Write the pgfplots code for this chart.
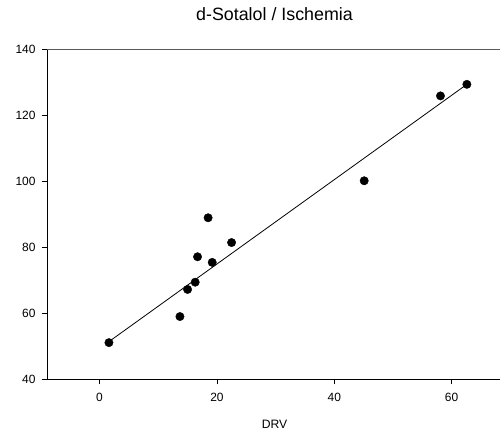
\documentclass[border=0pt]{standalone}
\usepackage{pgfplots}
\pgfplotsset{compat=1.18}
\usepackage{fontspec}
\setmainfont{Liberation Sans}
\begin{document}
\begin{tikzpicture}
\begin{axis}[
 at={(0,0)}, anchor=south west, scale only axis,
 width=454bp, height=330.3bp,
 xmin=-8.87, xmax=68.5, ymin=40, ymax=140,
 axis x line*=bottom, axis y line*=left,
 axis line style={line width=0.9bp, black, -},
 xtick={0,20,40,60}, ytick={40,60,...,140},
 tick align=outside, major tick length=5bp,
 tick style={line width=0.8bp, black},
 ticklabel style={font=\fontsize{12}{14}\selectfont},
 /pgf/number format/assume math mode=true,
 yticklabel style={xshift=-3.5bp},
 xticklabel style={yshift=-5bp},
 xlabel={DRV},
 xlabel style={at={(axis description cs:0.5,0)}, anchor=base, yshift=-48.7bp, font=\fontsize{12.2}{14}\selectfont},
 title={d-Sotalol / Ischemia},
 title style={at={(axis description cs:0.5,1)}, anchor=base, yshift=22.3bp, font=\fontsize{17.9}{20}\selectfont},
 clip=false,
]
\draw[line width=0.9bp, black!65] (rel axis cs:0,1) -- (rel axis cs:1,1);
\addplot[black, line width=0.8bp, no markers] coordinates {(1.6,51.4) (62.6,129.3)};
\addplot[only marks, mark=*, mark size=4.2bp, black] coordinates {
(1.6,51.1) (13.7,59.0) (15.0,67.2) (16.3,69.4) (16.7,77.1) (19.2,75.4)
(22.5,81.4) (18.5,88.9) (45.1,100.1) (58.1,125.8) (62.6,129.3)
};
\end{axis}
\pgfresetboundingbox
\useasboundingbox (-47.5bp,-53.7bp) rectangle (452.5bp,379.3bp);
\end{tikzpicture}
\end{document}
